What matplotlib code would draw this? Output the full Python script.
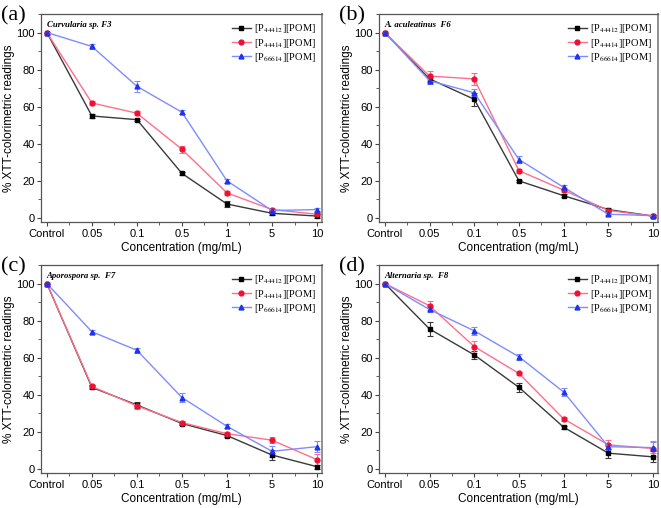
import matplotlib
matplotlib.use("Agg")
import matplotlib.pyplot as plt
import numpy as np
from matplotlib.ticker import MultipleLocator, FixedLocator

categories = ["Control", "0.05", "0.1", "0.5", "1", "5", "10"]
series_names = ["[P$_{44412}$][POM]", "[P$_{44414}$][POM]", "[P$_{66614}$][POM]"]

a_black = [100, 55, 53, 24, 7.5, 2.5, 1]
a_red = [100, 62, 56.5, 37, 13.5, 4.5, 2]
a_blue = [100, 92.5, 71, 57, 20, 4, 4.5]
a_black_err = [0, 1.2, 0.6, 0.6, 1.5, 1, 1]
a_red_err = [0, 1.2, 1, 2, 1, 1, 1]
a_blue_err = [0, 1.5, 3, 1.2, 1, 0.6, 1]

b_black = [100, 75, 64, 20, 12, 4.5, 1]
b_red = [100, 76.5, 75, 25.5, 15, 4, 1]
b_blue = [100, 74, 67.5, 31.5, 16.5, 2, 1.2]
b_black_err = [0, 1.5, 3.5, 0.6, 0.8, 0.8, 0.5]
b_red_err = [0, 2.5, 3.2, 1, 1, 0.8, 0.5]
b_blue_err = [0, 2, 2, 2, 1.2, 0.6, 0.5]

c_black = [100, 44, 34.5, 24.5, 18, 7.5, 1.2]
c_red = [100, 44.5, 34, 25, 19, 15.5, 5]
c_blue = [100, 74, 64, 38.5, 23, 9.5, 12]
c_black_err = [0, 1, 1.5, 1, 1, 2.5, 1]
c_red_err = [0, 1, 1.5, 1, 1, 1.5, 3]
c_blue_err = [0, 1, 1.2, 2.5, 1, 3, 3]

d_black = [100, 75.5, 61.5, 44, 22.5, 8.5, 6.5]
d_red = [100, 88, 66, 51.5, 27, 13, 11]
d_blue = [100, 86, 74.5, 60.5, 41.5, 12, 11.5]
d_black_err = [0, 3.8, 2, 2.5, 0.8, 2.5, 3]
d_red_err = [0, 2.5, 3.2, 1, 1, 2.5, 4]
d_blue_err = [0, 1.5, 2, 1.5, 2, 1.5, 3]

panels = [
    ("(a)", "Curvularia sp. F3", [a_black, a_red, a_blue], [a_black_err, a_red_err, a_blue_err]),
    ("(b)", "A. aculeatinus  F6", [b_black, b_red, b_blue], [b_black_err, b_red_err, b_blue_err]),
    ("(c)", "Aporospora sp.  F7", [c_black, c_red, c_blue], [c_black_err, c_red_err, c_blue_err]),
    ("(d)", "Alternaria sp.  F8", [d_black, d_red, d_blue], [d_black_err, d_red_err, d_blue_err]),
]

line_colors = ["#3a3a3a", "#ff6f8a", "#7f8cff"]
marker_colors = ["#000000", "#ee1133", "#1f33ee"]
markers = ["s", "o", "^"]

plt.rcParams["font.family"] = "Liberation Sans"
plt.rcParams["mathtext.fontset"] = "stix"

W, H = 661, 508
fig = plt.figure(figsize=(W / 100, H / 100), dpi=100)

boxes = [(41, 14, 322, 222), (379, 14, 658, 222), (41, 265, 322, 473), (379, 265, 658, 473)]

x = np.arange(len(categories))
for (lbl, title, ys, errs), (x0, y0, x1, y1) in zip(panels, boxes):
    ax = fig.add_axes([x0 / W, (H - y1) / H, (x1 - x0) / W, (y1 - y0) / H])
    handles = []
    for i in range(3):
        ax.errorbar(x, ys[i], yerr=errs[i], fmt="none", ecolor=line_colors[i], elinewidth=0.8,
                    capsize=2.2, capthick=0.8, zorder=2)
        h, = ax.plot(x, ys[i], color=line_colors[i], lw=1.0, marker=markers[i], ms=3.5,
                     mfc=marker_colors[i], mec=marker_colors[i], label=series_names[i], zorder=3)
        handles.append(h)
    ax.set_xlim(-0.13, 6.11)
    ax.set_ylim(-2.2, 110)
    ax.set_xticks(x)
    ax.set_xticklabels(categories, fontsize=8)
    ax.xaxis.set_minor_locator(FixedLocator(x[:-1] + 0.5))
    ax.set_yticks([0, 20, 40, 60, 80, 100])
    ax.yaxis.set_minor_locator(MultipleLocator(10))
    ax.tick_params(axis="y", labelsize=8, pad=1.5)
    ax.tick_params(axis="x", pad=2)
    ax.tick_params(which="major", direction="out", length=3, width=0.8, color="#444444")
    ax.tick_params(which="minor", direction="out", length=2, width=0.6, color="#444444")
    for s in ax.spines.values():
        s.set_color("#555555")
        s.set_linewidth(0.9)
    ax.spines["right"].set_linewidth(1.3)
    ax.spines["right"].set_color("#888888")
    ax.set_xlabel("Concentration (mg/mL)", fontsize=8.5, labelpad=2)
    ax.set_ylabel("% XTT-colorimetric readings", fontsize=8.5, labelpad=1)
    ax.text(0.02, 0.965, title, transform=ax.transAxes, ha="left", va="top",
            family="Liberation Serif", fontweight="bold", fontstyle="italic", fontsize=6.3)
    ax.legend(handles=handles, loc="upper right", frameon=False,
              prop={"family": "Liberation Serif", "size": 7.5},
              handlelength=1.8, handletextpad=0.3, labelspacing=0.12,
              borderaxespad=0.2, bbox_to_anchor=(1.0, 0.99))
    fig.text((x0 - 40) / W, 1 - (y0 + 2) / H, lbl, family="Liberation Serif",
             fontsize=16, ha="left", va="center")

fig.savefig("out.png", dpi=100)
